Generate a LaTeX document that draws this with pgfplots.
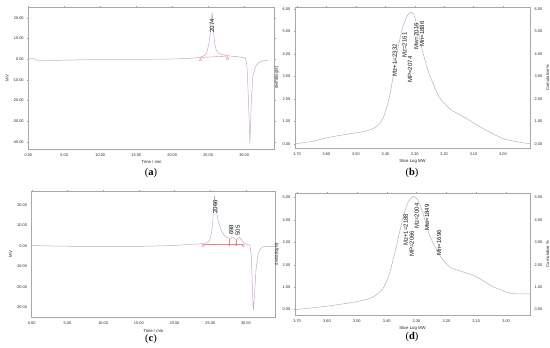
\documentclass[border=0pt]{standalone}
\usepackage{fontspec}
\setmainfont{Liberation Serif}
\setsansfont{Liberation Sans}
\usepackage{pgfplots}
\pgfplotsset{compat=1.18}
\definecolor{curve}{RGB}{196,168,206}
\definecolor{base}{RGB}{242,128,128}
\definecolor{frame}{RGB}{168,168,168}
\pgfplotsset{
  chrom/.style={
    scale only axis, anchor=south west,
    axis line style={frame, line width=0.7pt},
    tick style={frame, line width=0.3pt},
    tick align=outside, major tick length=1.2pt,
    every tick label/.append style={font=\sffamily\fontsize{3.9}{4.5}\selectfont, text=black!85},
    /pgf/number format/assume math mode=true,
    xticklabel style={/pgf/number format/.cd, fixed, fixed zerofill, precision=2},
    yticklabel style={/pgf/number format/.cd, fixed, fixed zerofill, precision=2},
    label style={font=\sffamily\fontsize{4.3}{5}\selectfont, text=black!85},
    xlabel style={yshift=2.5pt},
    ylabel style={yshift=-3pt},
    clip=true,
  },
}
\tikzset{ann/.style={font=\sffamily\fontsize{6.1}{7}\selectfont, text=black!90, rotate=90, anchor=west, inner sep=0pt}}
\begin{document}
\begin{tikzpicture}[x=1bp,y=1bp]
\path[use as bounding box] (0bp,0bp) rectangle (550bp,348bp);

% ---------------- (a)
\begin{axis}[chrom, at={(28.3bp,199bp)}, width=246.5bp, height=142bp,
  xmin=0, xmax=34.26, ymin=-43.4, ymax=25.2,
  xtick={0,5,...,30}, ytick={-40,-30,...,20},
  xlabel={Time / min}, ylabel={MV}]
\addplot[curve, line width=0.5pt] coordinates {
(0,0.16) (0.7,0.3) (1.4,-0.8) (5,-0.5) (10,-0.16) (15,-0.1) (19.2,0) (22,0.3) (23.8,0.8) (24.5,1.8) (24.8,3) (25.1,7.6) (25.3,13) (25.45,19) (25.55,22.5) (25.65,19) (25.75,13) (25.9,7.6) (26.1,4.5) (26.4,3) (27,2.2) (27.5,1.8) (28.3,1.4) (28.9,1.4) (29.3,1.0) (29.9,0.8) (30.2,0.3) (30.4,-3.7) (30.6,-19.8) (30.8,-41) (31.0,-19.8) (31.2,-8.5) (31.5,-4.5) (31.7,-2.9) (32.1,-1.5) (32.6,-0.8) (33.3,-0.5) };
\addplot[base, line width=0.4pt] coordinates {(23.95,0.8) (27.7,1.5)};
\addplot[base, only marks, mark=triangle, mark size=1.5pt, line width=0.35pt] coordinates {(23.95,-0.3) (27.7,0.4)};
\node[ann] at (axis cs:25.55,12.8) {2074};
\end{axis}

% ---------------- (b)
\begin{axis}[chrom, at={(295bp,200bp)}, width=235bp, height=141bp,
  x dir=reverse, xmin=2.908, xmax=3.707, ymin=-0.19, ymax=6.09,
  xtick={3.0,3.1,...,3.7}, ytick={0,1,...,6},
  xlabel={Slice Log MW}, ylabel={dwt/d(logM)}, ylabel style={yshift=0pt}]
\addplot[curve, line width=0.5pt, smooth, tension=0.4] coordinates {
(3.706,0) (3.65,0.1) (3.604,0.25) (3.56,0.36) (3.513,0.46) (3.47,0.55) (3.445,0.65) (3.422,0.85) (3.405,1.22) (3.388,1.96) (3.375,2.86) (3.360,4.05) (3.343,5.09) (3.326,5.68) (3.315,5.86) (3.303,5.76) (3.292,5.24) (3.275,4.2) (3.252,3.16) (3.218,2.11) (3.184,1.59) (3.155,1.35) (3.127,1.15) (3.071,0.70) (3.003,0.25) (2.95,0.08) (2.908,0.0) };
\node[ann] at (axis cs:3.368,3.0) {Mz+1=2332};
\node[ann] at (axis cs:3.335,3.82) {Mz=2161};
\node[ann] at (axis cs:3.316,2.71) {MP=2074};
\node[ann] at (axis cs:3.295,4.18) {Mw=2016};
\node[ann] at (axis cs:3.275,4.3) {Mn=1886};
\end{axis}
\begin{axis}[chrom, at={(295bp,200bp)}, width=235bp, height=141bp,
  x dir=reverse, xmin=2.908, xmax=3.707, ymin=-0.19, ymax=6.09,
  axis x line=none, axis y line*=right, ytick={0,1,...,6},
  ylabel={Cumulative \%}, ylabel style={yshift=6pt}]
\addplot[draw=none] coordinates {(3.5,1)};
\end{axis}

% ---------------- (c)
\begin{axis}[chrom, at={(31.7bp,30.7bp)}, width=243.3bp, height=126bp,
  xmin=0, xmax=34.07, ymin=-34.9, ymax=26.7,
  xtick={0,5,...,30}, ytick={-30,-20,...,20},
  xlabel={Time / min}, ylabel={MV}]
\addplot[curve, line width=0.5pt] coordinates {
(0,0.16) (4.9,-0.16) (10,-0.3) (14.2,-0.3) (19.8,0.16) (21.7,0.65) (23.6,1) (24.4,1.5) (24.7,1.8) (25.0,3.5) (25.2,6.5) (25.35,12) (25.5,20) (25.6,24.5) (25.75,20) (25.9,16.5) (26.1,12.5) (26.4,9.1) (26.7,6.5) (27.0,5.0) (27.4,4.0) (27.8,3.6) (28.05,4.3) (28.3,4.0) (28.6,3.0) (28.85,3.6) (29.1,4.1) (29.35,3.2) (29.6,1.8) (30.1,0.65) (30.55,0.5) (30.75,-5) (30.95,-25) (31.05,-31.5) (31.2,-24) (31.4,-12) (31.7,-4) (32.0,-1.5) (32.4,-0.4) (33,-0.3) (34.07,-0.3) };
\addplot[base, line width=0.4pt] coordinates {(24.0,1.0) (29.65,1.0)};
\addplot[base, line width=0.4pt] coordinates {(27.67,1.0) (27.67,3.6)};
\addplot[base, line width=0.4pt] coordinates {(28.6,1.0) (28.6,3.0)};
\addplot[base, only marks, mark=triangle, mark size=1.5pt, line width=0.35pt] coordinates {(24.0,0.1) (29.65,0.1)};
\addplot[base, only marks, mark=o, mark size=1.3pt, line width=0.35pt] coordinates {(27.67,0.6) (28.6,0.6)};
\node[ann] at (axis cs:25.72,15.8) {2066};
\node[ann] at (axis cs:27.95,5.3) {698};
\node[ann] at (axis cs:28.85,5.0) {505};
\end{axis}

% ---------------- (d)
\begin{axis}[chrom, at={(295bp,33bp)}, width=235bp, height=122bp,
  x dir=reverse, xmin=2.92, xmax=3.707, ymin=-0.24, ymax=5.19,
  xtick={3.0,3.1,...,3.7}, ytick={0,1,...,5},
  xlabel={Slice Log MW}, ylabel={dwt/d(logM)}, ylabel style={yshift=0pt}]
\addplot[curve, line width=0.5pt, smooth, tension=0.4] coordinates {
(3.706,0) (3.62,0.12) (3.548,0.25) (3.49,0.38) (3.447,0.55) (3.413,0.92) (3.391,1.59) (3.368,2.79) (3.345,4.12) (3.328,4.79) (3.311,5.04) (3.295,4.87) (3.278,4.27) (3.256,3.30) (3.222,2.41) (3.188,1.89) (3.143,1.67) (3.098,1.45) (3.041,1.0) (2.985,0.73) (2.95,0.70) (2.92,0.70) };
\node[ann] at (axis cs:3.336,2.83) {Mz+1=2188};
\node[ann] at (axis cs:3.316,2.34) {MP=2066};
\node[ann] at (axis cs:3.299,3.59) {Mz=2004};
\node[ann] at (axis cs:3.265,3.5) {Mw=1849};
\node[ann] at (axis cs:3.225,2.39) {Mn=1696};
\end{axis}
\begin{axis}[chrom, at={(295bp,33bp)}, width=235bp, height=122bp,
  x dir=reverse, xmin=2.92, xmax=3.707, ymin=-0.24, ymax=5.19,
  axis x line=none, axis y line*=right, ytick={0,1,...,5},
  ylabel={Cumulative \%}, ylabel style={yshift=6pt}]
\addplot[draw=none] coordinates {(3.5,1)};
\end{axis}

% panel letters
\node[font=\fontsize{10.5}{12}\selectfont] at (151bp,175bp) {(\textbf{a})};
\node[font=\fontsize{10.5}{12}\selectfont] at (412bp,175bp) {(\textbf{b})};
\node[font=\fontsize{10.5}{12}\selectfont] at (151bp,9bp) {(\textbf{c})};
\node[font=\fontsize{10.5}{12}\selectfont] at (412bp,11bp) {(\textbf{d})};
\end{tikzpicture}
\end{document}
